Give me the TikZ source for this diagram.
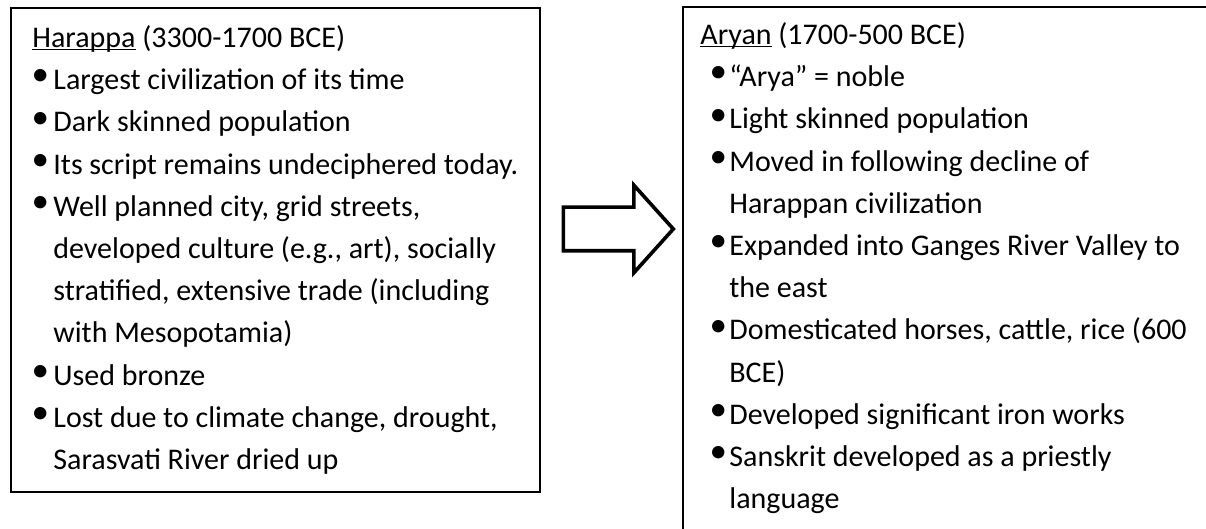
\documentclass[tikz,border=0pt]{standalone}
\usepackage{fontspec}
\setmainfont{Carlito}
\usetikzlibrary{shapes.arrows, positioning}

\newlength{\bulletpos}
\newlength{\textpos}
\newcommand{\bdot}{\raisebox{1.9pt}{\fontsize{17.5}{17.5}\selectfont\textbullet}}
\newcommand{\bitem}{\par\hangindent=\textpos\hangafter=1\noindent\makebox[\textpos][l]{\hspace*{\bulletpos}\rlap{\bdot}}}
\newsavebox{\titlebox}
\newcommand{\titleul}[1]{\sbox{\titlebox}{#1}\rlap{\rule[-1.5pt]{\wd\titlebox}{0.9pt}}\usebox{\titlebox}}

\begin{document}
\begin{tikzpicture}[x=0.5pt, y=-0.5pt]
	\tikzstyle{panel} = [draw=black, line width=1pt, rectangle]
	\tikzstyle{notes} = [anchor=north west, inner sep=0pt, text width=300pt, font=\fontsize{15}{21.1}\selectfont]
	\tikzstyle{shiftarrow} = [draw=black, line width=1.8pt, single arrow, single arrow head extend=11pt, single arrow tip angle=96, inner xsep=0pt, inner ysep=10pt, minimum height=55pt]

	\clip (0,0) rectangle (1206,529);

	% the two panels
	\node[panel, minimum width=264.5pt, minimum height=242pt] 	at (275.5, 250) 	(harappa) 	{};
	\node[panel, minimum width=273.5pt, minimum height=276.5pt]	at (956.5, 283.5)	(aryan) 	{};

	% panel texts
	\node[notes] at (32, 17.5) (harappatext) {%
		\raggedright\spaceskip=0.226em plus 0.1em minus 0.07em%
		\setlength{\bulletpos}{-0.4pt}\setlength{\textpos}{10.5pt}%
		\noindent\strut\titleul{Harappa} (3300-1700 BCE)
		\bitem Largest civilization of its time
		\bitem Dark skinned population
		\bitem Its script remains undeciphered today.
		\bitem Well planned city, grid streets,\newline developed culture (e.g., art), socially\newline stratified, extensive trade (including\newline with Mesopotamia)
		\bitem Used bronze
		\bitem Lost due to climate change, drought,\newline Sarasvati River dried up\par};
	\node[notes] at (700, 14.5) (aryantext) {%
		\raggedright\spaceskip=0.226em plus 0.1em minus 0.07em%
		\setlength{\bulletpos}{4.6pt}\setlength{\textpos}{14.5pt}%
		\noindent\strut\titleul{Aryan} (1700-500 BCE)
		\bitem “Arya” = noble
		\bitem Light skinned population
		\bitem Moved in following decline of\newline Harappan civilization
		\bitem Expanded into Ganges River Valley to\newline the east
		\bitem Domesticated horses, cattle, rice (600\newline BCE)
		\bitem Developed significant iron works
		\bitem Sanskrit developed as a priestly\newline language\par};

	% arrow between the panels
	\node[shiftarrow, anchor=tail] at (561.5, 229) (shift) {};
\end{tikzpicture}
\end{document}
